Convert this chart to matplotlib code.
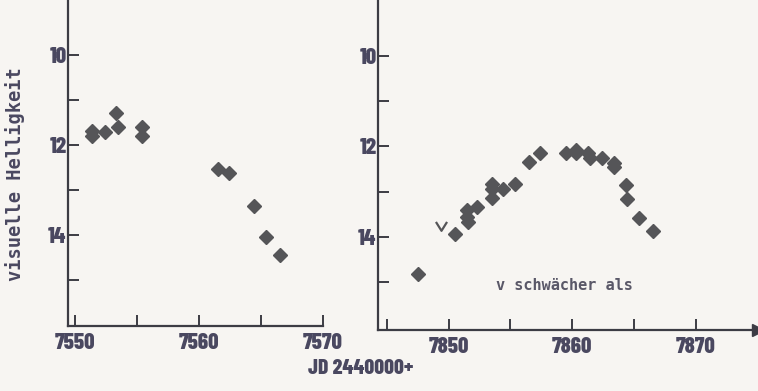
import matplotlib
matplotlib.use("Agg")
import matplotlib.pyplot as plt
from matplotlib.path import Path
from matplotlib.ticker import FixedLocator

# ---- data (JD - 2440000, visual magnitude) ----
left_jd = [7551.3, 7551.3, 7552.4, 7553.3, 7553.4, 7555.4, 7555.4,
           7561.5, 7562.4, 7564.4, 7565.4, 7566.5]
left_mag = [11.70, 11.80, 11.72, 11.30, 11.61, 11.59, 11.81,
            12.53, 12.63, 13.35, 14.04, 14.45]

right_jd = [7847.5, 7850.5, 7851.5, 7851.5, 7851.6, 7852.3,
            7853.5, 7853.5, 7853.5, 7854.4, 7855.4, 7856.5, 7857.4,
            7859.5, 7860.3, 7860.3, 7861.3, 7861.4, 7862.4, 7863.4, 7863.4,
            7864.3, 7864.4, 7865.4, 7866.5]
right_mag = [14.83, 13.94, 13.41, 13.55, 13.66, 13.33,
             12.83, 12.93, 13.15, 12.94, 12.84, 12.34, 12.14,
             12.14, 12.08, 12.15, 12.14, 12.26, 12.25, 12.36, 12.45,
             12.85, 13.16, 13.58, 13.88]

limit_jd = [7849.4]
limit_mag = [13.78]

left_xticks = [7550, 7560, 7570]
right_xticks = [7850, 7860, 7870]
yticks = [10, 12, 14]
tick_labels_left = ["7550", "7560", "7570"]
tick_labels_right = ["7850", "7860", "7870"]
ytick_labels = ["10", "12", "14"]

BG = "#f7f5f2"
TXT = "#4a4860"
MK = "#555558"
AX = "#3c3c44"

num_font = dict(family=["Barlow Condensed", "DejaVu Sans"], weight=800, size=16.5)

fig = plt.figure(figsize=(7.58, 3.91), dpi=100, facecolor=BG)

vmark = Path([(-1, 1), (0, -0.6), (1, 1)], [Path.MOVETO, Path.LINETO, Path.LINETO])


def style(ax, xticks, xlabels, minor):
    ax.set_facecolor(BG)
    for s in ("top", "right"):
        ax.spines[s].set_visible(False)
    for s in ("left", "bottom"):
        ax.spines[s].set_color(AX)
        ax.spines[s].set_linewidth(1.6)
    ax.set_xticks(xticks)
    ax.set_xticklabels(xlabels, **num_font, color=TXT)
    ax.xaxis.set_minor_locator(FixedLocator(minor))
    ax.set_yticks(yticks)
    ax.set_yticklabels(ytick_labels, **num_font, color=TXT)
    ax.yaxis.set_minor_locator(FixedLocator([11, 13, 15]))
    ax.tick_params(which="both", direction="in", length=8, width=1.4, color=AX)
    ax.tick_params(axis="x", which="both", pad=5)
    ax.tick_params(axis="y", which="both", pad=1)


# Left panel
axL = fig.add_axes([68 / 758, 1 - 326 / 391, (323 - 68) / 758, 326 / 391])
axL.plot(left_jd, left_mag, linestyle="none", marker="D", ms=7.5, color=MK, mec=MK)
axL.set_xlim(7549.4, 7570)
axL.set_ylim(16.02, 8.78)
style(axL, left_xticks, tick_labels_left, [7555, 7565])
axL.set_ylabel("visuelle Helligkeit", family="DejaVu Sans Mono", weight="bold",
               size=13.5, color=TXT)
axL.yaxis.set_label_coords((25 - 68) / 255, (326 - 174) / 326)

# Right panel
axR = fig.add_axes([378 / 758, 1 - 330 / 391, (758 - 378) / 758, 330 / 391])
axR.plot(right_jd, right_mag, linestyle="none", marker="D", ms=7.5, color=MK, mec=MK)
axR.plot(limit_jd, limit_mag, linestyle="none", marker=vmark, ms=8, mfc="none",
         mec=MK, mew=1.6)
axR.set_xlim(7844.3, 7875.0)
axR.set_ylim(16.06, 8.76)
style(axR, right_xticks, tick_labels_right, [7845, 7855, 7865])
axR.plot(1.0, 0, marker=">", ms=9, color=AX, transform=axR.transAxes, clip_on=False)
axR.text(0.31, 0.135, "v schwächer als", transform=axR.transAxes,
         family="DejaVu Sans Mono", weight="bold", size=11, color="#5a5868",
         va="center", ha="left")

fig.text(308 / 758, 1 - 369 / 391, "JD 2440000+", ha="left", va="center",
         family=["Barlow Condensed", "DejaVu Sans"], weight=800, size=15.5, color=TXT)

fig.savefig("out.png", dpi=100, facecolor=BG)
